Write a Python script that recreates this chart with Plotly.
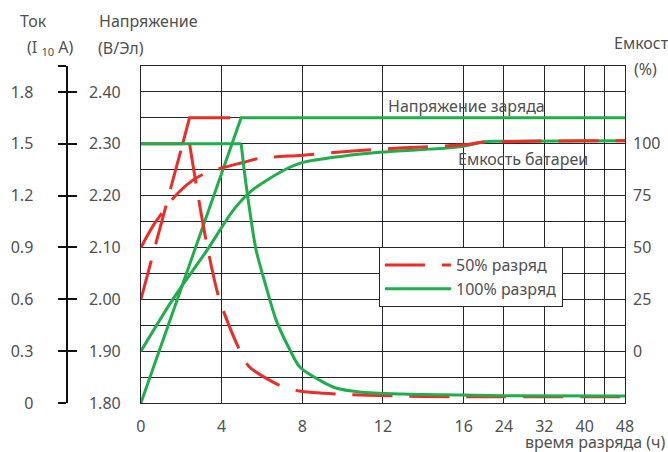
import numpy as np
import plotly.graph_objects as go

# ---------------- data ----------------
# broken time axis: hours -> axis position
HOUR_BREAKS = [0, 4, 8, 12, 16, 24, 32, 40, 44, 48]
AXIS_POS = [0, 4, 8, 12, 16, 18, 20, 22, 23, 24]
TIME_LABELS = ["0", "4", "8", "12", "16", "24", "32", "40", "", "48"]

VOLT_TICKS = [1.80, 1.85, 1.90, 1.95, 2.00, 2.05, 2.10, 2.15, 2.20, 2.25, 2.30, 2.35, 2.40, 2.45]
VOLT_LABELS = ["1.80", "", "1.90", "", "2.00", "", "2.10", "", "2.20", "", "2.30", "", "2.40", ""]
CURR_TICKS = [0, 0.3, 0.6, 0.9, 1.2, 1.5, 1.8, 1.95]
CURR_LABELS = ["0", "0.3", "0.6", "0.9", "1.2", "1.5", "1.8", ""]
CAP_TICKS = [0, 25, 50, 75, 100]

# 50% discharge (red)
r_volt_h = [0, 2.07, 2.41, 4.43]
r_volt_v = [2.00, 2.30, 2.35, 2.35]
r_curr_h = [0, 2.10, 2.41, 2.76, 3.25, 3.89, 4.88, 5.37, 7.04, 7.83, 9.75, 12.56, 15.4, 24, 48]
r_curr_a = [1.5, 1.5, 1.5, 1.25, 0.93, 0.60, 0.31, 0.21, 0.093, 0.07, 0.052, 0.041, 0.036, 0.036, 0.036]
r_cap_h = [0, 0.64, 1.08, 1.53, 2.51, 3.25, 5.07, 5.9, 8, 10.5, 12, 14, 16, 20, 24, 32, 48]
r_cap_p = [50, 61, 67, 73, 82, 86, 91, 93, 94.5, 96.5, 97.5, 98.5, 99.5, 100.8, 101, 101.3, 101.5]

# 100% discharge (green)
g_volt_h = [0, 4.97, 48]
g_volt_v = [1.80, 2.35, 2.35]
g_curr_h = [0, 4.97, 5.12, 5.32, 5.71, 6.21, 6.70, 7.39, 7.88, 9.01, 9.66, 10.84, 12.96, 15.9, 24, 48]
g_curr_a = [1.5, 1.5, 1.35, 1.175, 0.886, 0.672, 0.481, 0.307, 0.208, 0.122, 0.087, 0.064, 0.052, 0.046, 0.042, 0.04]
g_cap_h = [0, 1.58, 3.3, 4.43, 4.93, 5.57, 7.04, 8.03, 10, 12, 15.8, 20.2, 24, 48]
g_cap_p = [0, 25, 49, 66, 72, 78, 87, 91, 94, 96, 98.5, 101, 101.2, 101.5]

RED = "#ec2d27"
GREEN = "#1fae4b"
GRID = "#24242e"
TXT = "#505050"
DASH = "40px,17px"
LW = 3
FS = 16


def pos(hours):
    return np.interp(hours, HOUR_BREAKS, AXIS_POS)


fig = go.Figure()

def add(h, v, color, dash, yaxis, shape="linear", name=None, rank=None):
    fig.add_trace(go.Scatter(
        x=pos(h), y=v, mode="lines", yaxis=yaxis,
        line=dict(color=color, width=LW, dash=dash, shape=shape, smoothing=0.8),
        name=name or "", showlegend=name is not None,
        legendrank=rank if rank else 1000, hoverinfo="skip"))

# green (100%) first, red on top
add(g_volt_h, g_volt_v, GREEN, "solid", "y", name="100% разряд", rank=2)
add(g_curr_h[:2], g_curr_a[:2], GREEN, "solid", "y4")
add(g_curr_h[1:], g_curr_a[1:], GREEN, "solid", "y4", shape="spline")
add(g_cap_h, g_cap_p, GREEN, "solid", "y2", shape="spline")

add(r_volt_h[:2], r_volt_v[:2], RED, DASH, "y")
add(r_volt_h[1:], r_volt_v[1:], RED, "solid", "y")
add(r_curr_h[:2], r_curr_a[:2], RED, "solid", "y3")
add(r_curr_h[2:], r_curr_a[2:], RED, DASH, "y3", shape="spline", name="50% разряд", rank=1)
add(r_cap_h, r_cap_p, RED, DASH, "y2", shape="spline")

W, H = 668, 452
ML, MR, MT, MB = 0, 43, 66, 49
PW = W - ML - MR
PH = H - MT - MB


def px(x):
    return (x - ML) / PW


def py(y):
    return (H - MB - y) / PH


fig.update_layout(
    width=W, height=H,
    margin=dict(l=ML, r=MR, t=MT, b=MB),
    plot_bgcolor="white", paper_bgcolor="white",
    font=dict(family="Noto Sans", size=FS, color=TXT),
    showlegend=True,
    legend=dict(x=px(377), y=py(247), xanchor="left", yanchor="top",
                bgcolor="white", bordercolor=GRID, borderwidth=1,
                font=dict(size=FS, color=TXT), itemwidth=66,
                tracegroupgap=0),
    xaxis=dict(domain=[px(137), 1], range=[0, 24], tickvals=AXIS_POS, ticktext=TIME_LABELS,
               showgrid=True, gridcolor=GRID, gridwidth=1, showline=True, linecolor=GRID,
               linewidth=1, mirror=True, zeroline=False, ticks="", ticklabelstandoff=9),
    yaxis=dict(range=[1.80, 2.45], tickvals=VOLT_TICKS, ticktext=VOLT_LABELS,
               showgrid=True, gridcolor=GRID, gridwidth=1, showline=True, linecolor=GRID,
               linewidth=1, mirror=True, zeroline=False, ticks="", ticklabelstandoff=16),
    yaxis2=dict(overlaying="y", side="right", range=[-25, 137.5], tickvals=CAP_TICKS,
                showgrid=False, zeroline=False, showline=False, ticks="", ticklabelstandoff=7),
    yaxis3=dict(overlaying="y", anchor="free", position=px(63), side="left",
                range=[0, 1.95], tickvals=CURR_TICKS, ticktext=CURR_LABELS,
                showgrid=False, zeroline=False, showline=True, linecolor="#111", linewidth=2,
                ticks="outside", ticklen=8, tickwidth=2, tickcolor="#111", ticklabelstandoff=22),
    yaxis4=dict(overlaying="y", anchor="free", position=px(63), side="left",
                range=[0, 1.95], tickvals=CURR_TICKS, showticklabels=False,
                showgrid=False, zeroline=False, showline=False,
                ticks="inside", ticklen=9, tickwidth=2, tickcolor="#111"),
)

notes = [
    ("Ток", 29, 21, "center"),
    ("(I <sub>10</sub> A)", 46, 48, "center"),
    ("Напряжение", 145, 21, "center"),
    ("(В/Эл)", 117, 48, "center"),
    ("Емкость", 612, 43, "left"),
    ("(%)", 646, 69, "center"),
    ("Напряжение заряда", 465, 106, "center"),
    ("Емкость батареи", 522, 159, "center"),
    ("время разряда (ч)", 667, 442, "right"),
]
for text, x, y, anchor in notes:
    fig.add_annotation(text=text, x=px(x), y=py(y), xref="paper", yref="paper",
                       xanchor=anchor, yanchor="middle", showarrow=False,
                       font=dict(size=FS, color=TXT))

fig.write_html("out.html", config={"displayModeBar": False},
               post_script="document.body.style.margin='0';document.body.style.overflow='hidden';")
